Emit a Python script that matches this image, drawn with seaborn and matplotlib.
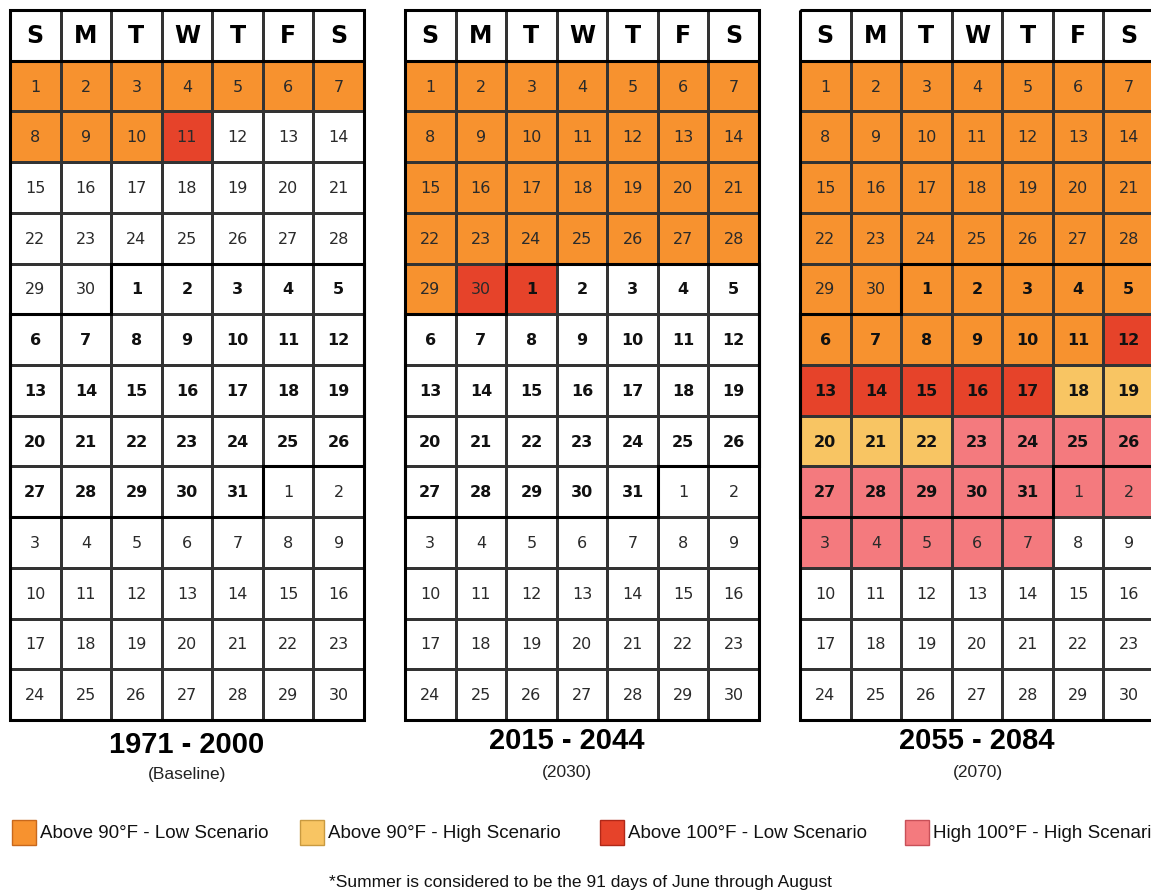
import numpy as np
import matplotlib
matplotlib.use("Agg")
import matplotlib.pyplot as plt
import seaborn as sns
from matplotlib.colors import ListedColormap
from matplotlib.patches import Rectangle

# ---- data ----
weekdays = ["S", "M", "T", "W", "T", "F", "S"]
month_lengths = [30, 31, 30]          # June, July, August (as drawn)
bold_month = 1                         # July is printed in bold
first_weekday = 0                      # June 1 falls on a Sunday

period_titles = ["1971 - 2000", "2015 - 2044", "2055 - 2084"]
period_subtitles = ["(Baseline)", "(2030)", "(2070)"]

# runs of (category, number of days) counted from June 1
# 0 = normal, 1 = >90F low, 2 = >90F high, 3 = >100F low, 4 = >100F high
baseline_runs = [(1, 10), (3, 1), (0, 80)]
mid_runs = [(1, 29), (3, 2), (0, 60)]
late_runs = [(1, 41), (3, 6), (2, 5), (4, 16), (0, 23)]
panel_runs = [baseline_runs, mid_runs, late_runs]

legend_labels = ["Above 90°F - Low Scenario", "Above 90°F - High Scenario",
                 "Above 100°F - Low Scenario", "High 100°F - High Scenario"]
cat_colors = ["#ffffff", "#f7922f", "#f8c563", "#e6432a", "#f47a7e"]
edge_colors = ["#ffffff", "#c8681c", "#c99a40", "#b02818", "#c85058"]

footnote = "*Summer is considered to be the 91 days of June through August"

# ---- layout (pixels) ----
W, H = 1151, 893
panel_left = [10, 405, 800]
panel_top, panel_w, panel_h = 10, 354, 710
title_x = [187, 567, 977]
title_y = [745, 741, 741]
sub_x = [187, 567, 978]
sub_y = [775, 773, 773]
legend_x = [12, 300, 600, 905]

label_font = ["Liberation Sans", "DejaVu Sans"]

sns.set_style("white")
plt.rcParams['font.family'] = ['DejaVu Sans']
plt.rcParams['text.color'] = 'black'

n_days = sum(month_lengths)
n_weeks = (first_weekday + n_days + 6) // 7


def expand(runs):
    cats = []
    for c, n in runs:
        cats += [c] * n
    return cats


def day_labels():
    labels, bold = [], []
    for m, ml in enumerate(month_lengths):
        for d in range(1, ml + 1):
            labels.append(str(d))
            bold.append(m == bold_month)
    return labels, bold


labels, bold = day_labels()
cmap = ListedColormap(cat_colors)

fig = plt.figure(figsize=(W / 100, H / 100), dpi=100)

for p, runs in enumerate(panel_runs):
    cats = expand(runs)
    grid = np.zeros((n_weeks + 1, 7))
    for i, c in enumerate(cats):
        pos = first_weekday + i
        grid[pos // 7 + 1, pos % 7] = c

    ax = fig.add_axes([panel_left[p] / W, 1 - (panel_top + panel_h) / H,
                       panel_w / W, panel_h / H])
    sns.heatmap(grid, cmap=cmap, vmin=-0.5, vmax=4.5, cbar=False,
                linewidths=0.8, linecolor="#333333", ax=ax,
                xticklabels=False, yticklabels=False)

    # header letters
    for c, wd in enumerate(weekdays):
        ax.text(c + 0.5, 0.52, wd, ha="center", va="center",
                fontsize=17, fontweight="heavy", color="black")

    # day numbers
    for i, lab in enumerate(labels):
        pos = first_weekday + i
        r, c = pos // 7 + 1, pos % 7
        ax.text(c + 0.5, r + 0.52, lab, ha="center", va="center",
                fontsize=11.5, fontweight="bold" if bold[i] else "normal",
                color="#111111" if bold[i] else "#2a2a2a")

    # thick lines: frame, header bottom, July outline
    lw = 2.2
    ax.add_patch(Rectangle((0, 0), 7, n_weeks + 1, fill=False,
                           edgecolor="black", lw=lw, clip_on=False, zorder=5))
    ax.plot([0, 7], [1, 1], color="black", lw=lw, zorder=5, clip_on=False)
    start = first_weekday + sum(month_lengths[:bold_month])
    end = start + month_lengths[bold_month] - 1
    r0, c0 = start // 7 + 1, start % 7
    r1, c1 = end // 7 + 1, end % 7
    xs = [c0, 7, 7, c1 + 1, c1 + 1, 0, 0, c0, c0]
    ys = [r0, r0, r1, r1, r1 + 1, r1 + 1, r0 + 1, r0 + 1, r0]
    ax.plot(xs, ys, color="black", lw=lw, zorder=5, clip_on=False,
            solid_joinstyle="miter")
    ax.set_xlim(0, 7)
    ax.set_ylim(n_weeks + 1, 0)
    for s in ax.spines.values():
        s.set_visible(False)

    fig.text(title_x[p] / W, 1 - title_y[p] / H, period_titles[p],
             ha="center", va="center", fontsize=21, fontweight="bold",
             family=label_font, color="black")
    fig.text(sub_x[p] / W, 1 - sub_y[p] / H, period_subtitles[p],
             ha="center", va="center", fontsize=12.5, family=label_font,
             color="#222222")

# legend
for k, lab in enumerate(legend_labels):
    x0 = legend_x[k]
    fig.add_artist(Rectangle((x0 / W, 1 - 845 / H), 24 / W, 25 / H,
                             transform=fig.transFigure,
                             facecolor=cat_colors[k + 1],
                             edgecolor=edge_colors[k + 1], lw=1))
    fig.text((x0 + 28) / W, 1 - 834 / H, lab, ha="left", va="center",
             fontsize=13.5, family=label_font, color="#111111")

fig.text(580 / W, 1 - 883 / H, footnote, ha="center", va="center",
         fontsize=12.5, family=label_font, color="#111111")

fig.savefig("out.png", dpi=100, facecolor="white")
